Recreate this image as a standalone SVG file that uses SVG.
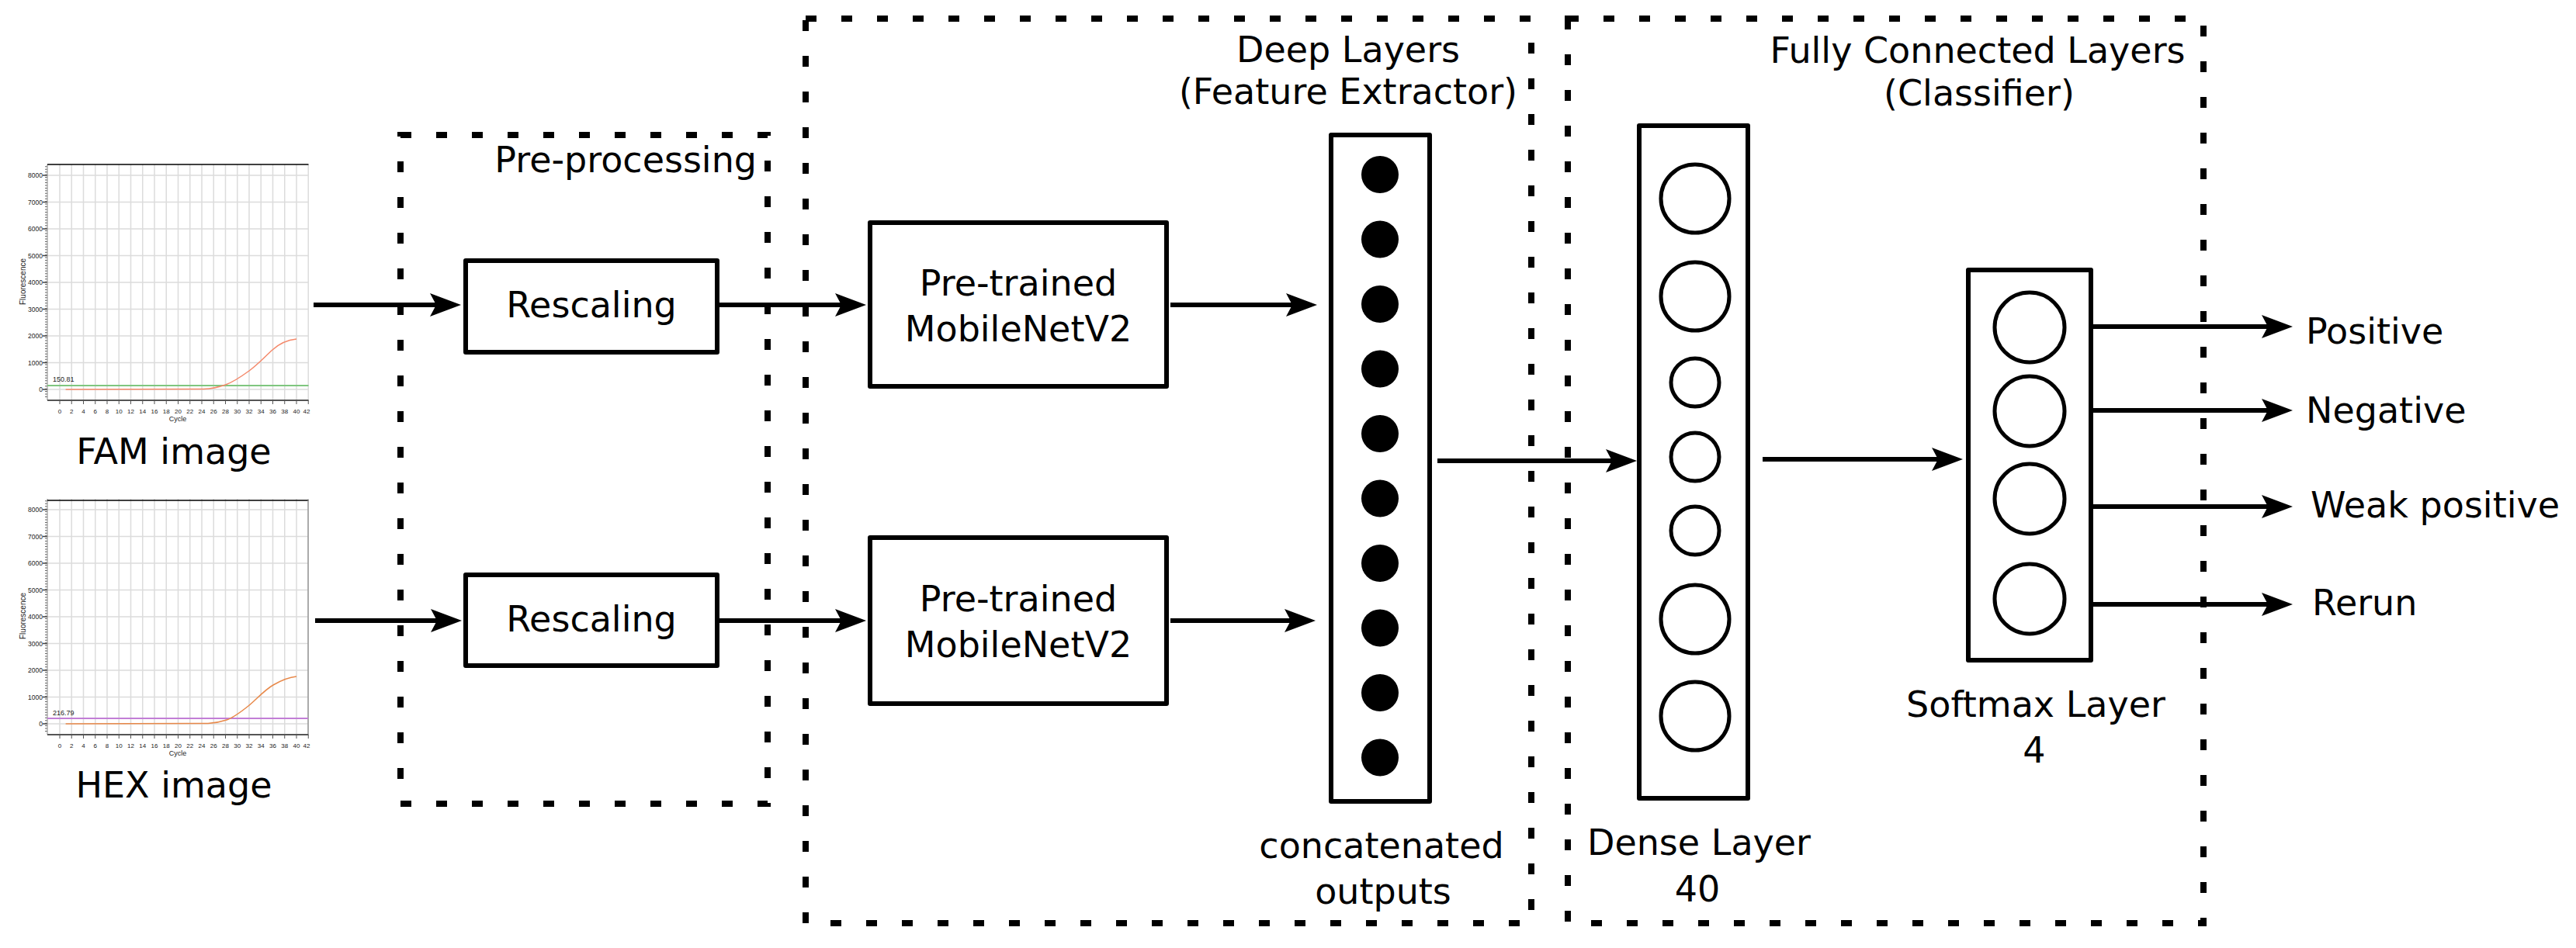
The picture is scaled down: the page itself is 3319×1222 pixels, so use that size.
<svg xmlns="http://www.w3.org/2000/svg" xmlns:xlink="http://www.w3.org/1999/xlink" width="3319" height="1222" viewBox="0 0 3319 1222">
<style>
.box{fill:#fff;stroke:#000;stroke-width:6;stroke-linejoin:round}
.dash{fill:none;stroke:#000;stroke-width:8;stroke-dasharray:14 32}
.t{font-family:"DejaVu Sans",sans-serif;font-size:46px;fill:#000}
.c{text-anchor:middle}
.edge{stroke:#000;stroke-width:6;fill:none;marker-end:url(#ah)}
.ax{font-family:"Liberation Sans",Arial,sans-serif;font-size:8.5px;fill:#222}
.axr{text-anchor:end}
.ring{fill:none;stroke:#000;stroke-width:5}
.dot{fill:#000}
</style>
<defs>
<marker id="ah" markerUnits="userSpaceOnUse" markerWidth="40" markerHeight="30" refX="10" refY="15" orient="auto" viewBox="0 0 40 30"><path d="M0,0 L40,15 L0,30 L8,15 z" fill="#000"/></marker>
<g id="grid">
<line x1="76.25" y1="364" x2="398" y2="364" stroke="#dcdcdc" stroke-width="304" stroke-dasharray="1.5 13.75"/>
<line x1="229" y1="502.75" x2="229" y2="225" stroke="#dcdcdc" stroke-width="336" stroke-dasharray="1.5 33"/>
<line x1="76.5" y1="518.5" x2="398" y2="518.5" stroke="#555" stroke-width="5" stroke-dasharray="1 14.25"/>
<line x1="59.5" y1="512" x2="59.5" y2="212" stroke="#666" stroke-width="3" stroke-dasharray="1 2.45"/>
<line x1="58" y1="502.75" x2="58" y2="225" stroke="#444" stroke-width="6" stroke-dasharray="1.5 33"/>
<line x1="61" y1="212" x2="61" y2="516" stroke="#888" stroke-width="1"/>
<line x1="61" y1="516" x2="397.5" y2="516" stroke="#555" stroke-width="2"/>
</g>
</defs>
<rect width="3319" height="1222" fill="#fff"/>

<g id="fam-chart">
<use xlink:href="#grid"/>
<line x1="61" y1="212" x2="397.5" y2="212" stroke="#000" stroke-width="1.5"/>
<line x1="61" y1="497" x2="397.5" y2="497" stroke="#7fc67f" stroke-width="2"/>
<path d="M84.6,502 L262,501.5 C275,501 282,499 290.5,496 S310,486 321,478 S340,461 351,451 S372,438 382,437" fill="none" stroke="#f4896b" stroke-width="1.5"/>
<text class="ax" x="68" y="492" style="font-size:9px">150.81</text>
<g class="ax axr"><text x="55" y="229">8000</text><text x="55" y="263.5">7000</text><text x="55" y="298">6000</text><text x="55" y="332.5">5000</text><text x="55" y="367">4000</text><text x="55" y="401.5">3000</text><text x="55" y="436">2000</text><text x="55" y="470.5">1000</text><text x="55" y="505">0</text></g>
<text class="ax c" style="font-size:8px"><tspan x="77" y="533">0</tspan><tspan x="92.25" y="533">2</tspan><tspan x="107.5" y="533">4</tspan><tspan x="122.75" y="533">6</tspan><tspan x="138" y="533">8</tspan><tspan x="153.25" y="533">10</tspan><tspan x="168.5" y="533">12</tspan><tspan x="183.75" y="533">14</tspan><tspan x="199" y="533">16</tspan><tspan x="214.25" y="533">18</tspan><tspan x="229.5" y="533">20</tspan><tspan x="244.75" y="533">22</tspan><tspan x="260" y="533">24</tspan><tspan x="275.25" y="533">26</tspan><tspan x="290.5" y="533">28</tspan><tspan x="305.75" y="533">30</tspan><tspan x="321" y="533">32</tspan><tspan x="336.25" y="533">34</tspan><tspan x="351.5" y="533">36</tspan><tspan x="366.75" y="533">38</tspan><tspan x="382" y="533">40</tspan><tspan x="395" y="533">42</tspan></text>
<text class="ax c" x="229" y="543" style="font-size:9px">Cycle</text>
<text class="ax c" transform="translate(33,363) rotate(-90)" style="font-size:10px">Fluorescence</text>
<text class="t c" x="224" y="598">FAM image</text>
</g>

<g id="hex-chart">
<use xlink:href="#grid" transform="translate(0,431)"/>
<line x1="61" y1="645" x2="397.5" y2="645" stroke="#000" stroke-width="1.5"/>
<line x1="397" y1="645" x2="397" y2="946" stroke="#999" stroke-width="1.5"/>
<line x1="61" y1="926" x2="397" y2="926" stroke="#c27ed6" stroke-width="2"/>
<path d="M84.6,933 L268,932.5 C280,932 286,930 292,928 S310,918 320,910 S340,890 352,883 S372,873 382,872" fill="none" stroke="#e8894a" stroke-width="1.5"/>
<text class="ax" x="68" y="922" style="font-size:9px">216.79</text>
<g class="ax axr"><text x="55" y="660">8000</text><text x="55" y="694.5">7000</text><text x="55" y="729">6000</text><text x="55" y="763.5">5000</text><text x="55" y="798">4000</text><text x="55" y="832.5">3000</text><text x="55" y="867">2000</text><text x="55" y="901.5">1000</text><text x="55" y="936">0</text></g>
<text class="ax c" style="font-size:8px"><tspan x="77" y="964">0</tspan><tspan x="92.25" y="964">2</tspan><tspan x="107.5" y="964">4</tspan><tspan x="122.75" y="964">6</tspan><tspan x="138" y="964">8</tspan><tspan x="153.25" y="964">10</tspan><tspan x="168.5" y="964">12</tspan><tspan x="183.75" y="964">14</tspan><tspan x="199" y="964">16</tspan><tspan x="214.25" y="964">18</tspan><tspan x="229.5" y="964">20</tspan><tspan x="244.75" y="964">22</tspan><tspan x="260" y="964">24</tspan><tspan x="275.25" y="964">26</tspan><tspan x="290.5" y="964">28</tspan><tspan x="305.75" y="964">30</tspan><tspan x="321" y="964">32</tspan><tspan x="336.25" y="964">34</tspan><tspan x="351.5" y="964">36</tspan><tspan x="366.75" y="964">38</tspan><tspan x="382" y="964">40</tspan><tspan x="395" y="964">42</tspan></text>
<text class="ax c" x="229" y="974" style="font-size:9px">Cycle</text>
<text class="ax c" transform="translate(33,794) rotate(-90)" style="font-size:10px">Fluorescence</text>
<text class="t c" x="224" y="1028">HEX image</text>
</g>

<g id="preprocessing">
<rect class="dash" x="516" y="174" width="473" height="862"/>
<text class="t" x="975" y="222" text-anchor="end">Pre-processing</text>
</g>
<g id="deep-layers">
<rect class="dash" x="1038" y="24" width="935" height="1166"/>
<text class="t c" x="1737" y="80">Deep Layers</text>
<text class="t c" x="1737" y="134">(Feature Extractor)</text>
</g>
<g id="fully-connected">
<rect class="dash" x="2020" y="24" width="819" height="1166"/>
<text class="t c" x="2548" y="81">Fully Connected Layers</text>
<text class="t c" x="2550" y="136">(Classifier)</text>
</g>

<g id="connectors">
<path class="edge" d="M404,393 H564"/>
<path class="edge" d="M924,393 H1086"/>
<path class="edge" d="M1508,393 H1667"/>
<path class="edge" d="M406,800 H565"/>
<path class="edge" d="M924,800 H1086"/>
<path class="edge" d="M1508,800 H1665"/>
<path class="edge" d="M1852,594 H2079"/>
<path class="edge" d="M2271,592 H2499"/>
<path class="edge" d="M2697,421 H2924"/>
<path class="edge" d="M2697,529 H2924"/>
<path class="edge" d="M2697,653 H2924"/>
<path class="edge" d="M2697,779 H2924"/>
</g>

<g id="rescaling-1">
<rect class="box" x="600" y="336" width="324" height="118"/>
<text class="t c" x="762" y="409">Rescaling</text>
</g>
<g id="rescaling-2">
<rect class="box" x="600" y="741" width="324" height="117"/>
<text class="t c" x="762" y="814">Rescaling</text>
</g>
<g id="mobilenet-1">
<rect class="box" x="1121" y="287" width="382" height="211"/>
<text class="t c" x="1312" y="381">Pre-trained</text>
<text class="t c" x="1312" y="440">MobileNetV2</text>
</g>
<g id="mobilenet-2">
<rect class="box" x="1121" y="693" width="382" height="214"/>
<text class="t c" x="1312" y="788">Pre-trained</text>
<text class="t c" x="1312" y="847">MobileNetV2</text>
</g>

<g id="concatenated">
<rect class="box" x="1715" y="174" width="127" height="859"/>
<circle class="dot" cx="1778" cy="225" r="24"/>
<circle class="dot" cx="1778" cy="308.5" r="24"/>
<circle class="dot" cx="1778" cy="392" r="24"/>
<circle class="dot" cx="1778" cy="475.5" r="24"/>
<circle class="dot" cx="1778" cy="559" r="24"/>
<circle class="dot" cx="1778" cy="642.5" r="24"/>
<circle class="dot" cx="1778" cy="726" r="24"/>
<circle class="dot" cx="1778" cy="809.5" r="24"/>
<circle class="dot" cx="1778" cy="893" r="24"/>
<circle class="dot" cx="1778" cy="976.5" r="24"/>
<text class="t c" x="1780" y="1106">concatenated</text>
<text class="t c" x="1782" y="1165">outputs</text>
</g>

<g id="dense-layer">
<rect class="box" x="2112" y="162" width="140" height="867"/>
<circle class="ring" cx="2184" cy="256" r="44"/>
<circle class="ring" cx="2184" cy="382" r="44"/>
<circle class="ring" cx="2184" cy="493" r="31"/>
<circle class="ring" cx="2184" cy="589" r="31"/>
<circle class="ring" cx="2184" cy="684" r="31"/>
<circle class="ring" cx="2184" cy="798" r="44"/>
<circle class="ring" cx="2184" cy="923" r="44"/>
<text class="t c" x="2189" y="1102">Dense Layer</text>
<text class="t c" x="2187" y="1162">40</text>
</g>

<g id="softmax-layer">
<rect class="box" x="2536" y="348" width="158" height="503"/>
<circle class="ring" cx="2615" cy="422" r="45"/>
<circle class="ring" cx="2615" cy="530" r="45"/>
<circle class="ring" cx="2615" cy="643" r="45"/>
<circle class="ring" cx="2615" cy="772" r="45"/>
<text class="t c" x="2623" y="924">Softmax Layer</text>
<text class="t c" x="2621" y="983">4</text>
</g>

<g id="out-positive"><text class="t" x="2971" y="443">Positive</text></g>
<g id="out-negative"><text class="t" x="2971" y="545">Negative</text></g>
<g id="out-weak-positive"><text class="t" x="2977" y="667">Weak positive</text></g>
<g id="out-rerun"><text class="t" x="2979" y="793">Rerun</text></g>
</svg>
